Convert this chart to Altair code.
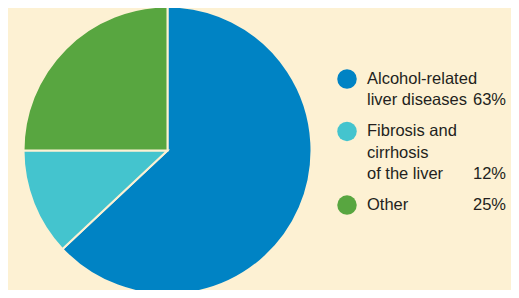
import altair as alt
import pandas as pd

categories = ["Alcohol-related liver diseases", "Fibrosis and cirrhosis of the liver", "Other"]
label_lines = [["Alcohol-related", "liver diseases"], ["Fibrosis and", "cirrhosis", "of the liver"], ["Other"]]
shares = [63, 12, 25]
colors = ["#0083C4", "#44C4CE", "#58A640"]
BG = "#FDF1D3"
FONT = "Liberation Sans"
FS = 16.5

pie_df = pd.DataFrame({"category": categories, "share": shares, "order": list(range(len(categories)))})

# legend table: one row per text line, slot in line units with a gap between items
rows = []
pct_rows = []
start = 0.0
for i, (cat, lines, s) in enumerate(zip(categories, label_lines, shares)):
    for j, ln in enumerate(lines):
        rows.append({"category": cat, "text": ln, "slot": start + j, "first": j == 0})
    pct_rows.append({"category": cat, "text": f"{s}%", "slot": start + len(lines) - 1})
    start += len(lines) + 0.46
lines_df = pd.DataFrame(rows)
pct_df = pd.DataFrame(pct_rows)
dots_df = lines_df[lines_df["first"]]

color_scale = alt.Scale(domain=categories, range=colors)
yscale = alt.Scale(domain=[0, 6], range=[71, 198.8])

pie = alt.Chart(pie_df).mark_arc(radius=144, stroke=BG, strokeWidth=2).encode(
    theta=alt.Theta("share:Q", stack=True),
    color=alt.Color("category:N", scale=color_scale, legend=None),
    order=alt.Order("order:Q"),
    x=alt.value(159.5),
    y=alt.value(142.5),
)

dots = alt.Chart(dots_df).mark_circle(size=380, opacity=1).encode(
    x=alt.value(339),
    y=alt.Y("slot:Q", scale=yscale, axis=None),
    color=alt.Color("category:N", scale=color_scale, legend=None),
)

texts = alt.Chart(lines_df).mark_text(
    align="left", baseline="middle", font=FONT, fontSize=FS, color="#231F20"
).encode(
    x=alt.value(359),
    y=alt.Y("slot:Q", scale=yscale, axis=None),
    text="text:N",
)

pcts = alt.Chart(pct_df).mark_text(
    align="right", baseline="middle", font=FONT, fontSize=FS, color="#231F20"
).encode(
    x=alt.value(498),
    y=alt.Y("slot:Q", scale=yscale, axis=None),
    text="text:N",
)

chart = alt.layer(pie, dots, texts, pcts).properties(
    width=503, height=282, padding=0, autosize=alt.AutoSizeParams(type="none"), background=BG
).configure_view(stroke=None)

chart.save("out.html", embed_options={"renderer": "svg", "actions": False})
